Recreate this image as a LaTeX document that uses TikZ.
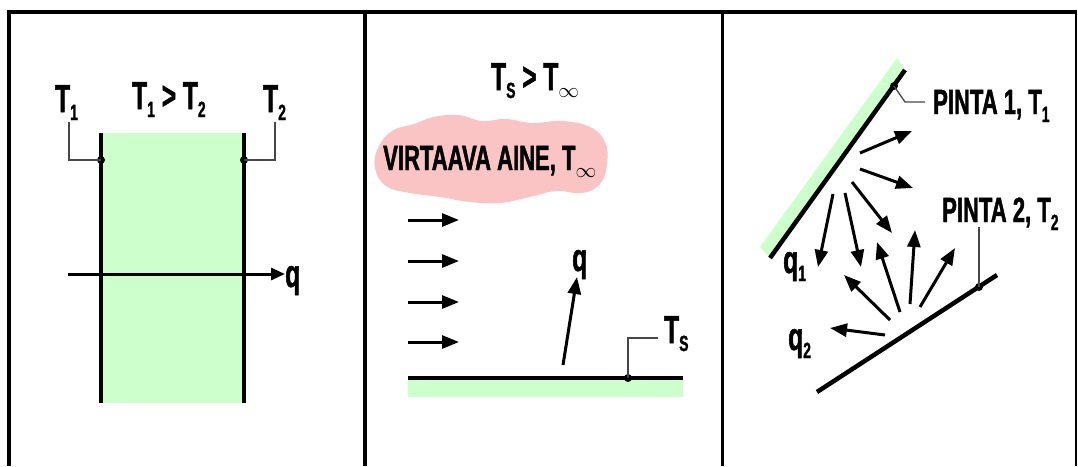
\documentclass[tikz,border=0pt]{standalone}
\usepackage{fontspec}
\newfontfamily\nar{Liberation Sans}[FakeStretch=0.63,FakeBold=1.3]
\usetikzlibrary{arrows.meta}
\definecolor{plategreen}{RGB}{204,255,204}
\definecolor{cloudpink}{RGB}{250,196,196}
\definecolor{leadgray}{RGB}{70,70,70}
\newcommand{\lsub}[1]{\raisebox{-8pt}{\fontsize{22}{22}\selectfont #1}}
\newcommand{\bigtxt}{\nar\bfseries\fontsize{39}{40}\selectfont}
\newcommand{\midtxt}{\nar\bfseries\fontsize{35}{36}\selectfont}
\begin{document}
\begin{tikzpicture}[x=1pt,y=-1pt,
  lbl/.style={inner sep=0pt, anchor=base west, font=\bigtxt},
  mlbl/.style={inner sep=0pt, anchor=base west, font=\midtxt},
  frame/.style={line width=3.5pt},
  plate/.style={line width=4.5pt},
  leader/.style={line width=1.3pt, draw=leadgray},
  harrow/.style={line width=3pt, -{Triangle[length=17pt,width=13pt]}},
  dotmark/.style={circle, fill=black, inner sep=0pt, minimum size=8pt}]
\useasboundingbox (0,0) rectangle (1078,466);
% frame
\draw[frame] (9,466) -- (9,12) -- (1077,12);
\draw[frame] (365,12) -- (365,466);
\draw[line width=3pt] (722,12) -- (722,466);
\draw[line width=1.2pt] (1076,12) -- (1076,466);

% ---------- panel 1 ----------
\fill[plategreen] (101,133) rectangle (244,403);
\draw[plate] (101,133) -- (101,403);
\draw[plate] (244,133) -- (244,403);
\node[dotmark] (d1) at (101,160) {};
\node[dotmark] (d2) at (244,160) {};
\node[lbl] (t12) at (132,109) {T\lsub{1} > T\lsub{2}};
\node[lbl] (t1) at (55,112) {T\lsub{1}};
\node[lbl] (t2) at (263,112) {T\lsub{2}};
\coordinate (l1) at (69,122);
\coordinate (l2) at (275,122);
\draw[leader] (d1.center) -| (l1);
\draw[leader] (d2.center) -| (l2);
\coordinate (qs) at (68,274);
\node[lbl] (q) at (285,287) {q};
\draw[line width=3pt, -{Triangle[length=14pt,width=12pt]}] (qs) -- (q.west |- qs);

% ---------- panel 2 ----------
\node[lbl] (tsinf) at (491,90) {T\lsub{S} > T\lsub{\raisebox{1pt}{$\infty$}}};
\fill[cloudpink] plot[smooth cycle, tension=0.7] coordinates {
 (378,148) (392,131) (414,124) (434,117) (458,115) (482,121) (506,119)
 (532,123) (562,121) (590,127) (605,142) (607,164) (600,184) (582,193)
 (556,191) (530,197) (500,203) (470,202) (440,197) (410,193) (386,186) (375,168)};
\node[mlbl] (va) at (383,170) {VIRTAAVA AINE, T\lsub{\raisebox{1pt}{$\infty$}}};
\foreach \y [count=\i] in {220,261,302,342} {
  \coordinate (fa\i) at (408,\y);
  \coordinate (fb\i) at (459,\y);
  \draw[harrow] (fa\i) -- (fb\i);
}
\fill[plategreen] (408,379) rectangle (683,397);
\coordinate (pl) at (408,378);
\coordinate (pr) at (683,378);
\draw[plate] (pl) -- (pr);
\coordinate (qa) at (563,365);
\coordinate (qb) at (577,277);
\draw[harrow] (qa) -- (qb);
\node[lbl] (q2p) at (572,271) {q};
\node[dotmark] (ds) at (628,378) {};
\coordinate (lsa) at (658,338);
\draw[leader] (ds.center) |- (lsa);
\node[lbl] (tsl) at (664,343) {T\lsub{S}};

% ---------- panel 3 ----------
\fill[plategreen] (770,258) -- (905,70) -- (897,58) -- (760,247) -- cycle;
\coordinate (s1a) at (770,258);
\coordinate (s1b) at (905,70);
\draw[plate] (s1a) -- (s1b);
\coordinate (s2a) at (817,392);
\coordinate (s2b) at (997,275);
\draw[plate] (s2a) -- (s2b);
\node[dotmark] (dp1) at (894,86) {};
\node[dotmark] (dp2) at (979,287) {};
\coordinate (lp1a) at (905,102);
\coordinate (lp1b) at (925,102);
\draw[leader] (dp1.center) -- (lp1a) -- (lp1b);
\coordinate (lp2) at (979,227);
\draw[leader] (dp2.center) -- (lp2);
\node[mlbl] (p1) at (933,114) {PINTA 1, T\lsub{1}};
\node[mlbl] (p2) at (942,222) {PINTA 2, T\lsub{2}};
\node[lbl] (q1) at (783,273) {q\lsub{1}};
\node[lbl] (q2) at (788,350) {q\lsub{2}};
% arrows from surface 1
\foreach \ax/\ay/\bx/\by [count=\i] in {860/153/912/131, 860/169/913/188, 852/182/892/233, 845/193/861/267, 833/194/818/267} {
  \coordinate (ra\i) at (\ax,\ay);
  \coordinate (rb\i) at (\bx,\by);
  \draw[harrow] (ra\i) -- (rb\i);
}
% arrows from surface 2
\foreach \ax/\ay/\bx/\by [count=\i] in {920/307/955/248, 910/304/915/230, 900/312/877/242, 890/320/844/275, 885/335/830/328} {
  \coordinate (sa\i) at (\ax,\ay);
  \coordinate (sb\i) at (\bx,\by);
  \draw[harrow] (sa\i) -- (sb\i);
}
\end{tikzpicture}
\end{document}
